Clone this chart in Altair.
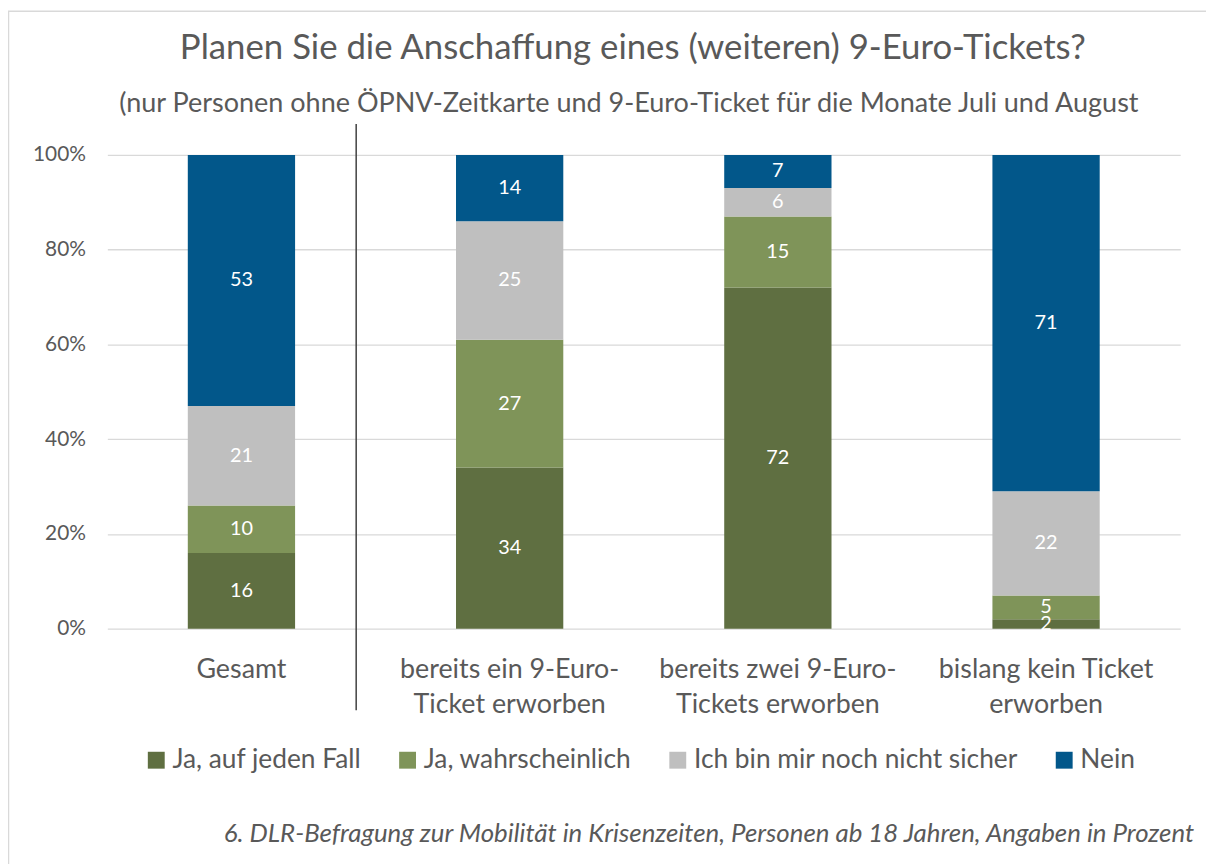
import altair as alt
import pandas as pd

categories = [
    "Gesamt",
    "bereits ein 9-Euro-|Ticket erworben",
    "bereits zwei 9-Euro-|Tickets erworben",
    "bislang kein Ticket|erworben",
]
series = ["Ja, auf jeden Fall", "Ja, wahrscheinlich", "Ich bin mir noch nicht sicher", "Nein"]
colors = ["#5f6f41", "#7f9459", "#bfbfbf", "#02578a"]

ja_fall = [16, 34, 72, 2]
ja_wahr = [10, 27, 15, 5]
unsicher = [21, 25, 6, 22]
nein = [53, 14, 7, 71]

title_text = "Planen Sie die Anschaffung eines (weiteren) 9-Euro-Tickets?"
subtitle_text = "(nur Personen ohne ÖPNV-Zeitkarte und 9-Euro-Ticket für die Monate Juli und August"
footer_text = "6. DLR-Befragung zur Mobilität in Krisenzeiten, Personen ab 18 Jahren, Angaben in Prozent"

rows = []
for s_i, (name, vals) in enumerate(zip(series, [ja_fall, ja_wahr, unsicher, nein])):
    for c, v in zip(categories, vals):
        rows.append({"cat": c, "series": name, "order": s_i, "value": v})
df = pd.DataFrame(rows)

FONT = "Lato"
TXT = "#595959"
W, H = 1080, 477

x_enc = alt.X(
    "cat:N",
    sort=categories,
    scale=alt.Scale(paddingInner=0.6, paddingOuter=0.3),
    axis=alt.Axis(
        title=None, labelAngle=0, ticks=False, domain=False,
        labelExpr="split(datum.label, '|')", labelLimit=0,
        labelFontSize=27, labelLineHeight=35, labelPadding=28,
        labelColor=TXT, labelFont=FONT,
    ),
)

bars = alt.Chart(df).mark_bar().encode(
    x=x_enc,
    y=alt.Y(
        "value:Q", stack="normalize",
        scale=alt.Scale(domain=[0, 1]),
        axis=alt.Axis(
            title=None, format=".0%", values=[0, 0.2, 0.4, 0.6, 0.8, 1.0],
            ticks=False, domain=False, labelFontSize=21, labelPadding=22,
            labelColor=TXT, labelFont=FONT, gridColor="#d9d9d9", gridWidth=1.3,
        ),
    ),
    color=alt.Color(
        "series:N",
        scale=alt.Scale(domain=series, range=colors),
        legend=alt.Legend(
            title=None, orient="none", legendX=36, legendY=596,
            direction="horizontal", columns=4, columnPadding=33,
            labelFontSize=26.5, labelFont=FONT, labelColor=TXT, labelOffset=3,
            labelLimit=0, padding=0,
            symbolType="square", symbolSize=289, symbolStrokeWidth=0,
            symbolOpacity=1,
        ),
    ),
    order=alt.Order("order:Q", sort="ascending"),
)

labels = alt.Chart(df).transform_stack(
    stack="value", groupby=["cat"], as_=["y0", "y1"], offset="normalize",
    sort=[alt.SortField("order", order="ascending")],
).transform_calculate(
    mid="(datum.y0 + datum.y1) / 2"
).mark_text(color="white", fontSize=20, font=FONT, baseline="middle").encode(
    x=alt.X("cat:N", sort=categories),
    y=alt.Y("mid:Q", scale=alt.Scale(domain=[0, 1])),
    text=alt.Text("value:Q"),
)

sep = alt.Chart(pd.DataFrame({"a": [0]})).mark_rule(color="#404040", strokeWidth=1.5).encode(
    x=alt.value(250.5), y=alt.value(-31), y2=alt.value(559)
)

frame = alt.Chart(pd.DataFrame({"a": [0]})).mark_rect(
    fill=None, stroke="#d9d9d9", strokeWidth=1.5
).encode(
    x=alt.value(-99.5), x2=alt.value(1200), y=alt.value(-144.5), y2=alt.value(800)
)

title = alt.Chart(pd.DataFrame({"t": [title_text]})).mark_text(
    fontSize=35, font=FONT, color=TXT, align="center", baseline="alphabetic"
).encode(x=alt.value(529), y=alt.value(-97), text="t:N")

subtitle = alt.Chart(pd.DataFrame({"t": [subtitle_text]})).mark_text(
    fontSize=27.2, font=FONT, color=TXT, align="center", baseline="alphabetic"
).encode(x=alt.value(525), y=alt.value(-43), text="t:N")

footer = alt.Chart(pd.DataFrame({"t": [footer_text]})).mark_text(
    fontSize=26, font=FONT, color=TXT, align="right", baseline="alphabetic", fontStyle="italic"
).encode(x=alt.value(1094), y=alt.value(692), text="t:N")

chart = alt.layer(frame, bars, labels, sep, title, subtitle, footer).properties(
    width=W, height=H,
    autosize=alt.AutoSizeParams(type="none"),
    padding={"left": 100, "top": 145, "right": 26, "bottom": 234},
).configure_view(stroke=None)

chart.save("out.html", embed_options={"renderer": "svg", "actions": False})
